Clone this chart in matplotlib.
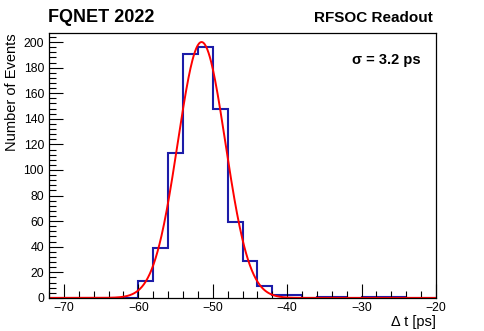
import numpy as np
import matplotlib.pyplot as plt
from matplotlib.ticker import MultipleLocator

plt.rcParams['font.family'] = ['Liberation Sans', 'DejaVu Sans']

# histogram: 2 ps bins from -72 to -20
bin_edges = np.arange(-72, -19, 2)
counts = [0, 0, 0, 0, 0, 0,
          13, 39, 113, 191, 196, 148, 59, 29, 9, 2, 2, 0,
          1, 1, 0, 1, 1, 1, 0, 0]

# gaussian fit parameters
fit_amp = 200.0
fit_mean = -51.5
fit_sigma = 3.2

fig = plt.figure(figsize=(4.85, 3.31), dpi=100)
ax = fig.add_axes([0.101, 0.1, 0.798, 0.8])

ax.stairs(counts, bin_edges, color='#1c1ca8', lw=1.5, baseline=0)

xf = np.linspace(bin_edges[0], bin_edges[-1], 600)
ax.plot(xf, fit_amp * np.exp(-0.5 * ((xf - fit_mean) / fit_sigma) ** 2), color='red', lw=1.4)

ax.set_xlim(-72, -20)
ax.set_ylim(0, 207)

ax.xaxis.set_major_locator(MultipleLocator(10))
ax.xaxis.set_minor_locator(MultipleLocator(2))
ax.yaxis.set_major_locator(MultipleLocator(20))
ax.yaxis.set_minor_locator(MultipleLocator(4))
ax.tick_params(which='both', direction='in', top=False, right=False, labelsize=8.8, width=0.8)
ax.tick_params(which='major', length=10)
ax.tick_params(which='minor', length=5)
ax.tick_params(axis='x', pad=3)
for s in ax.spines.values():
    s.set_linewidth(0.9)

ax.set_xticks([-70, -60, -50, -40, -30, -20])
ax.set_xticklabels(['\u221270', '\u221260', '\u221250', '\u221240', '\u221230', '\u221220'])

ax.set_ylabel('Number of Events', fontsize=10.5, loc='top', labelpad=3)
ax.set_xlabel('\u0394 t [ps]', fontsize=10.5, loc='right', labelpad=1)

fig.text(0.099, 0.935, 'FQNET 2022', fontsize=13, fontweight='bold', va='baseline')
fig.text(0.892, 0.935, 'RFSOC Readout', fontsize=11, fontweight='bold', ha='right', va='baseline')
ax.text(0.96, 0.9, '\u03c3 = 3.2 ps', transform=ax.transAxes, fontsize=10.5,
        fontweight='bold', ha='right', va='center')

fig.savefig('out.png', dpi=100)
